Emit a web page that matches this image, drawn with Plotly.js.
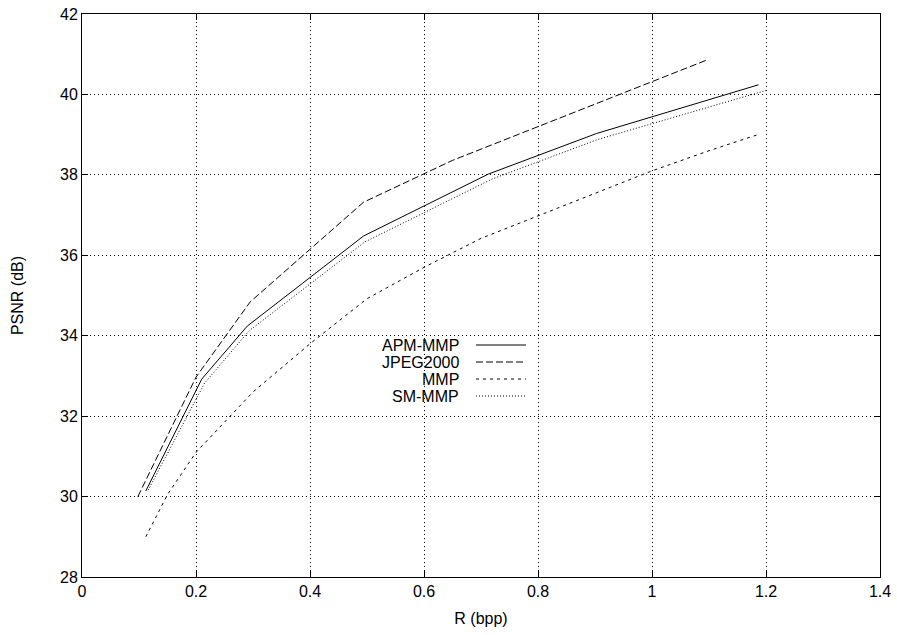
<!DOCTYPE html>
<html>
<head>
<meta charset="utf-8">
<script src="https://cdn.plot.ly/plotly-3.0.1.min.js"></script>
<style>html,body{margin:0;padding:0;background:#fff;}#chart{width:897px;height:635px;}</style>
</head>
<body>
<div id="chart"></div>
<script>
// Data
const seriesNames = ["APM-MMP", "JPEG2000", "MMP", "SM-MMP"];
const apmX = [0.112, 0.21, 0.29, 0.494, 0.713, 0.903, 1.187];
const apmY = [30.14, 32.92, 34.24, 36.48, 38.02, 39.03, 40.24];
const jpegX = [0.098, 0.2, 0.295, 0.494, 0.65, 1.097];
const jpegY = [30.0, 32.97, 34.84, 37.32, 38.36, 40.86];
const mmpX = [0.112, 0.15, 0.2, 0.3, 0.4, 0.5, 0.6, 0.7, 0.8, 0.9, 1.0, 1.1, 1.19];
const mmpY = [29.0, 30.05, 31.1, 32.6, 33.8, 34.92, 35.7, 36.42, 36.98, 37.53, 38.1, 38.6, 39.02];
const smX = [0.116, 0.215, 0.293, 0.496, 0.72, 0.905, 1.2];
const smY = [30.16, 32.82, 34.12, 36.33, 37.9, 38.88, 40.1];
const xTicks = [0, 0.2, 0.4, 0.6, 0.8, 1, 1.2, 1.4];
const yTicks = [28, 30, 32, 34, 36, 38, 40, 42];

const FONT = "Liberation Sans, Arial, sans-serif";
const dashes = ["solid", "7px,3px", "3px,4px", "1px,2px"];
const xs = [apmX, jpegX, mmpX, smX];
const ys = [apmY, jpegY, mmpY, smY];

const traces = seriesNames.map((n, i) => ({
  x: xs[i], y: ys[i], name: n, type: "scatter", mode: "lines",
  line: {color: "#000", width: 1, dash: dashes[i]}, showlegend: false
}));

// gnuplot-style key: text right-aligned, line sample on its right, opaque box
const W = 897, H = 635, mL = 82, mR = 17, mT = 14, mB = 58;
const plotW = W - mL - mR, plotH = H - mT - mB;
const px = v => (v - mL) / plotW;
const py = v => 1 - (v - mT) / plotH;
const legTop = 345, legStep = 17;
const annotations = [];
const shapes = [{type: "rect", xref: "paper", yref: "paper", layer: "between",
  x0: px(372), x1: px(533), y0: py(337), y1: py(404),
  fillcolor: "#fff", line: {width: 0}}];
seriesNames.forEach((n, i) => {
  const yp = py(legTop + i * legStep);
  annotations.push({text: n, xref: "paper", yref: "paper", x: px(461), y: yp,
    xanchor: "right", yanchor: "middle", showarrow: false,
    font: {family: FONT, size: 16, color: "#000"}});
  shapes.push({type: "line", xref: "paper", yref: "paper",
    x0: px(476), x1: px(526), y0: yp, y1: yp,
    line: {color: "#000", width: 1, dash: dashes[i]}});
});

const axisCommon = {
  showline: true, mirror: "ticks", linecolor: "#000", linewidth: 1,
  ticks: "inside", ticklen: 6, tickcolor: "#000", tickwidth: 1,
  showgrid: true, gridcolor: "#000", gridwidth: 1, griddash: "1px,3px",
  zeroline: false, tickfont: {family: FONT, size: 16, color: "#000"},
  fixedrange: true
};

const layout = {
  width: W, height: H,
  margin: {l: mL, r: mR, t: mT, b: mB},
  paper_bgcolor: "#fff", plot_bgcolor: "#fff",
  font: {family: FONT, size: 16, color: "#000"},
  xaxis: Object.assign({}, axisCommon, {range: [0, 1.4], tickvals: xTicks, ticktext: xTicks.map(String),
    title: {text: "R (bpp)", font: {size: 16}, standoff: 13}}),
  yaxis: Object.assign({}, axisCommon, {range: [28, 42], tickvals: yTicks, ticktext: yTicks.map(String),
    title: {text: "PSNR (dB)", font: {size: 16}, standoff: 32}}),
  annotations: annotations, shapes: shapes, showlegend: false
};

Plotly.newPlot("chart", traces, layout, {staticPlot: true, displayModeBar: false});
</script>
</body>
</html>
